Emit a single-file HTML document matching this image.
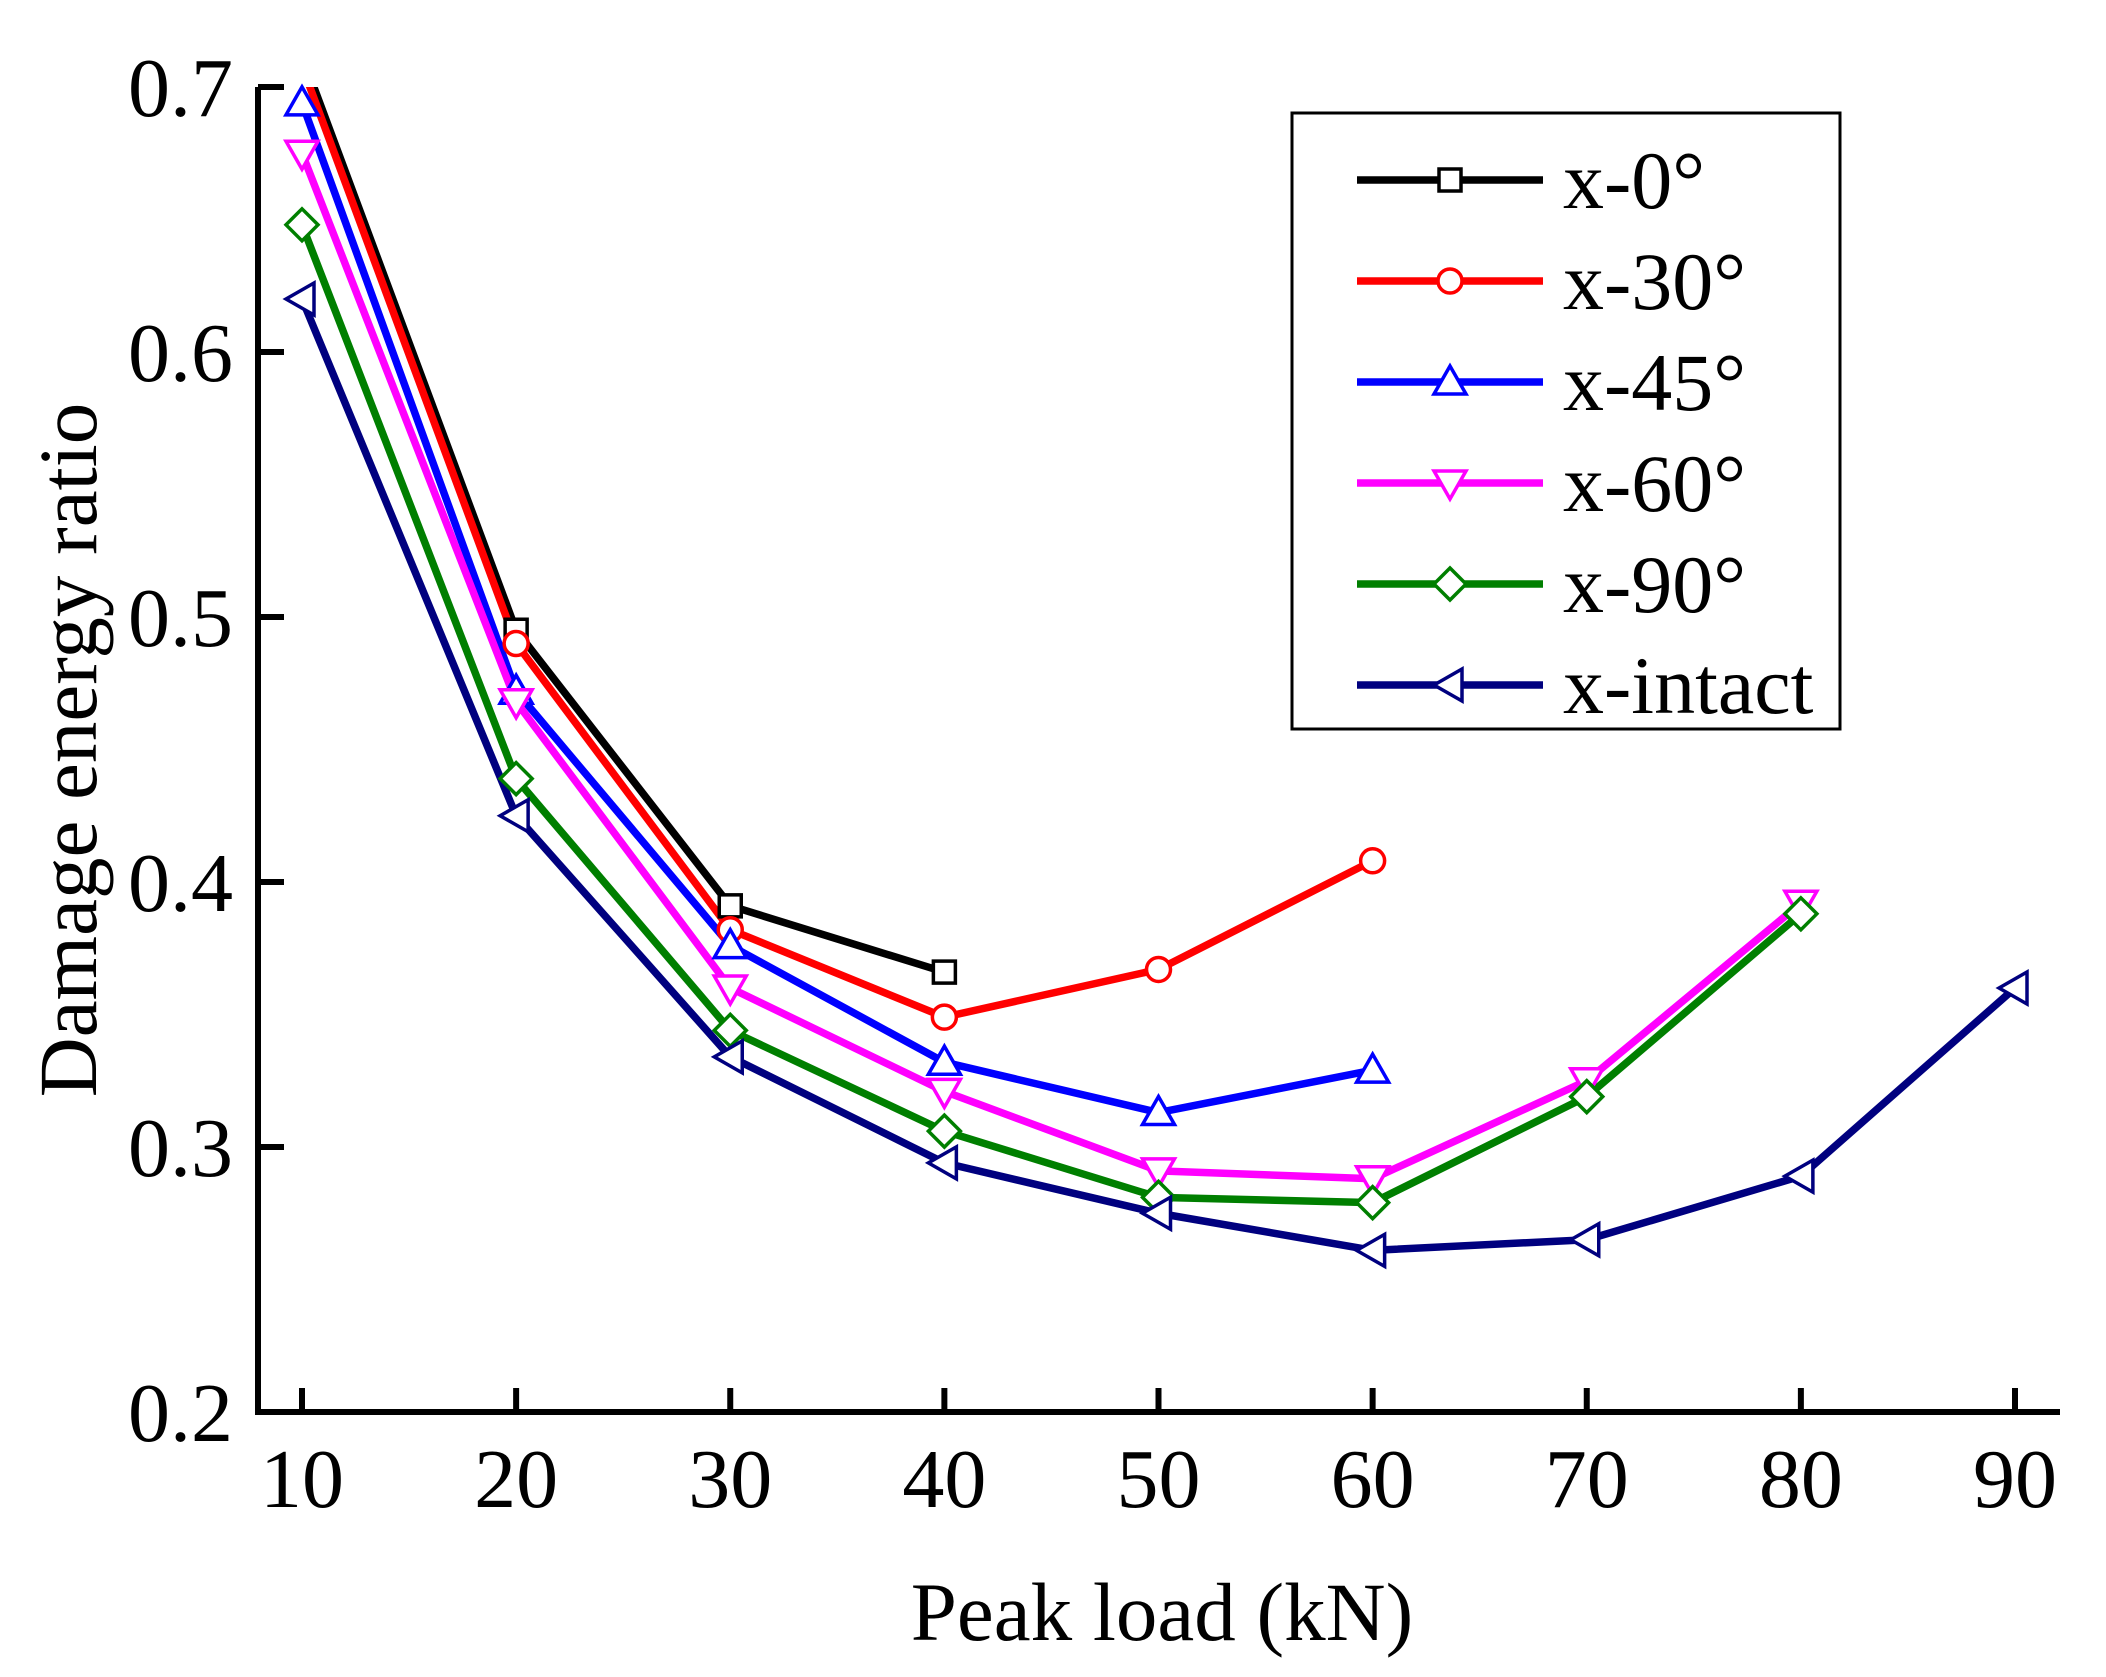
<!DOCTYPE html>
<html><head><meta charset="utf-8"><style>
html,body{margin:0;padding:0;background:#fff;}
svg{display:block;font-family:"Liberation Serif",serif;}
</style></head><body>
<svg id="chart" width="2106" height="1677" viewBox="0 0 2106 1677">
<defs><clipPath id="plotclip"><rect x="258" y="87" width="1802" height="1326"/></clipPath></defs>
<g id="axes"></g>
<g id="series" clip-path="url(#plotclip)"></g>
<g id="markers"></g>
<g id="legend"></g>
<text x="1162" y="1640" font-size="83" text-anchor="middle">Peak load (kN)</text>
<text transform="translate(96,750) rotate(-90)" font-size="83" text-anchor="middle">Damage energy ratio</text>
</svg>
<script>
const xTicks=[10,20,30,40,50,60,70,80,90];
const yTicks=[0.2,0.3,0.4,0.5,0.6,0.7];
const yTickLabels=["0.2","0.3","0.4","0.5","0.6","0.7"];
const seriesNames=["x-0°","x-30°","x-45°","x-60°","x-90°","x-intact"];
const loads=[10,20,30,40,50,60,70,80,90];
const s0=[0.712,0.495,0.391,0.366];
const s30=[0.708,0.490,0.382,0.349,0.367,0.408];
const s45=[0.694,0.472,0.376,0.332,0.313,0.329];
const s60=[0.675,0.468,0.360,0.321,0.291,0.288,0.325,0.392];
const s90=[0.648,0.439,0.344,0.306,0.281,0.279,0.319,0.388];
const sIntact=[0.620,0.425,0.334,0.294,0.275,0.261,0.265,0.289,0.360];
const allSeries=[s0,s30,s45,s60,s90,sIntact];
const colors=["#000","#f00","#00f","#f0f","#007f00","#00007f"];
const markers=["square","circle","up","down","diamond","left"];
const NS="http://www.w3.org/2000/svg";
const X0=258,XR=2060,YB=1412;
function xs(v){return 302+(v-10)*(2015-302)/80;}
function ys(v){return 1412-(v-0.2)*(1412-87)/0.5;}
function mk(tag,attrs,parent){const e=document.createElementNS(NS,tag);for(const k in attrs)e.setAttribute(k,attrs[k]);parent.appendChild(e);return e;}
const axes=document.getElementById('axes');
let a=mk('path',{d:`M${X0},87 V${YB} H${XR}`,fill:'none',stroke:'#000','stroke-width':6},axes);


xTicks.forEach(t=>{
 let l=mk('line',{x1:xs(t),x2:xs(t),y1:YB,y2:YB-24,stroke:'#000','stroke-width':6},axes);
 
 
 let tx=mk('text',{x:xs(t),y:1507,'font-size':84,'text-anchor':'middle'},axes);tx.textContent=t;
 
 
});
yTicks.forEach((t,i)=>{
 let l=mk('line',{x1:X0,x2:X0+26,y1:ys(t),y2:ys(t),stroke:'#000','stroke-width':6},axes);
 
 
 let tx=mk('text',{x:233,y:ys(t)+29,'font-size':84,'text-anchor':'end'},axes);tx.textContent=yTickLabels[i];
 
 
});
function marker(type,cx,cy,color,parent){
 const r=16;let e;
 const st={fill:'#fff',stroke:color,'stroke-width':3.5};
 if(type=='square')e=mk('rect',Object.assign({x:cx-11,y:cy-11,width:22,height:22},st),parent);
 else if(type=='circle')e=mk('circle',Object.assign({cx:cx,cy:cy,r:12},st),parent);
 else if(type=='up')e=mk('polygon',Object.assign({points:`${cx},${cy-r} ${cx-r},${cy+12} ${cx+r},${cy+12}`},st),parent);
 else if(type=='down')e=mk('polygon',Object.assign({points:`${cx},${cy+r} ${cx-r},${cy-12} ${cx+r},${cy-12}`},st),parent);
 else if(type=='diamond')e=mk('polygon',Object.assign({points:`${cx},${cy-r} ${cx+r},${cy} ${cx},${cy+r} ${cx-r},${cy}`},st),parent);
 else e=mk('polygon',Object.assign({points:`${cx-r},${cy} ${cx+12},${cy-r} ${cx+12},${cy+r}`},st),parent);
 return e;
}
const sg=document.getElementById('series'),mg=document.getElementById('markers');
allSeries.forEach((s,i)=>{
 const pts=s.map((v,j)=>xs(loads[j])+','+ys(v)).join(' ');
 let p=mk('polyline',{points:pts,fill:'none',stroke:colors[i],'stroke-width':7.5,'stroke-linejoin':'round'},sg);
 
 
 s.forEach((v,j)=>{
  if(ys(v)<87)return;
  let m=marker(markers[i],xs(loads[j]),ys(v),colors[i],mg);
  
  
 });
});
const lg=document.getElementById('legend');
let box=mk('rect',{x:1292,y:113,width:548,height:616,fill:'#fff',stroke:'#000','stroke-width':3},lg);


seriesNames.forEach((n,i)=>{
 const y=180+i*101;
 let l=mk('line',{x1:1357,x2:1543,y1:y,y2:y,stroke:colors[i],'stroke-width':7.5},lg);
 
 
 let m=marker(markers[i],1450,y,colors[i],lg);
 
 
 let t=mk('text',{x:1563,y:y+28,'font-size':82},lg);t.textContent=n;
 
 
});
</script>
</body></html>
